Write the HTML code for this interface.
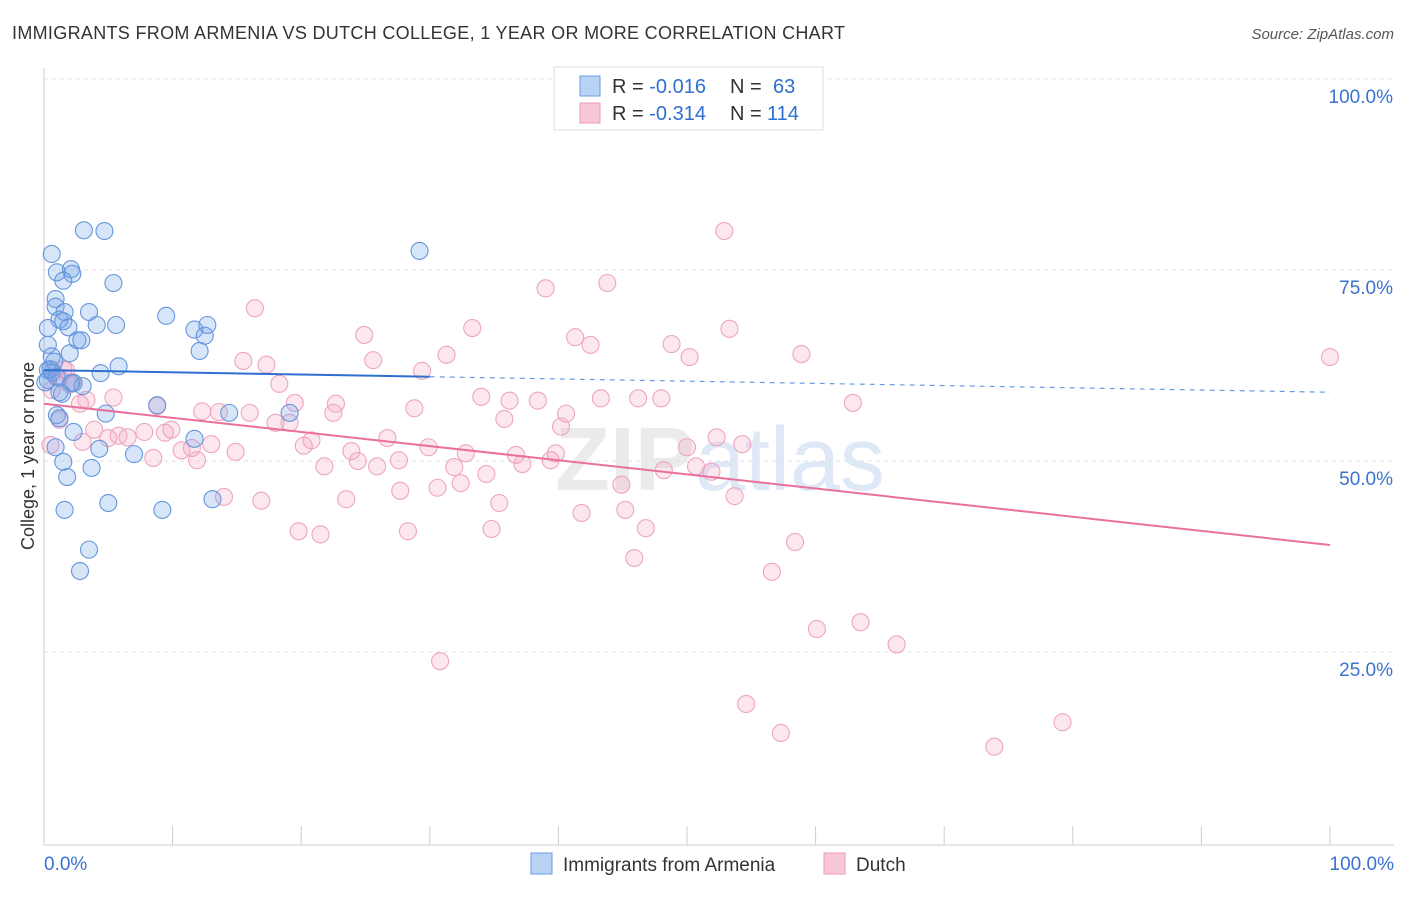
<!DOCTYPE html>
<html><head><meta charset="utf-8"><style>
body{margin:0;background:#fff;font-family:"Liberation Sans",sans-serif}
svg text{font-family:"Liberation Sans",sans-serif}
</style></head><body>
<svg id="chart" width="1406" height="892" viewBox="0 0 1406 892" xmlns="http://www.w3.org/2000/svg">
<text x="12" y="39" font-size="18" fill="#333" textLength="833" lengthAdjust="spacing">IMMIGRANTS FROM ARMENIA VS DUTCH COLLEGE, 1 YEAR OR MORE CORRELATION CHART</text>
<text x="1394" y="39" font-size="15" fill="#555" font-style="italic" text-anchor="end">Source: ZipAtlas.com</text>
<text x="720" y="490" font-size="90" fill="#ebebeb" text-anchor="middle" font-weight="bold">ZIP<tspan fill="#dfe8f6" font-weight="normal">atlas</tspan></text>
<g id="grid"></g><g id="axes"></g><g id="pts"></g><g id="trends"></g>
<text transform="translate(34,456) rotate(-90)" font-size="18" fill="#333" text-anchor="middle">College, 1 year or more</text>
<g>
<rect x="554" y="67" width="269" height="63" fill="#fff" stroke="#ddd"/>
<rect x="580" y="76" width="20" height="20" fill="#b9d3f5" stroke="#6a9be0"/>
<rect x="580" y="103" width="20" height="20" fill="#f9c8d8" stroke="#eb9ab8"/>
<text x="612" y="93" font-size="20" fill="#333">R = <tspan fill="#2f6fd0">-0.016</tspan><tspan x="730">N = </tspan><tspan x="773" fill="#2f6fd0">63</tspan></text>
<text x="612" y="120" font-size="20" fill="#333">R = <tspan fill="#2f6fd0">-0.314</tspan><tspan x="730">N = </tspan><tspan x="767" fill="#2f6fd0">114</tspan></text>
</g>
<g>
<rect x="531" y="853" width="21" height="21" fill="#b9d3f5" stroke="#6a9be0"/>
<text x="563" y="871" font-size="19" fill="#333">Immigrants from Armenia</text>
<rect x="824" y="853" width="21" height="21" fill="#f9c8d8" stroke="#eb9ab8"/>
<text x="856" y="871" font-size="19" fill="#333">Dutch</text>
</g>
</svg>
<script>
const yTicks=[25,50,75,100];
const yTickLabels=["25.0%","50.0%","75.0%","100.0%"];
const xLabels=["0.0%","100.0%"];
const blueX=[0.6,3.1,4.7,1.0,2.1,2.2,1.5,5.4,0.9,0.9,3.5,1.6,1.2,1.5,0.3,4.1,1.9,5.6,2.6,2.9,0.3,2.0,0.6,0.8,5.8,4.4,0.3,0.6,2.3,3.0,1.4,1.2,9.5,11.7,12.7,12.5,12.1,29.2,8.8,14.4,19.1,4.8,1.0,1.2,2.3,11.7,7.0,4.3,0.9,1.5,3.7,1.8,13.1,5.0,1.6,9.2,3.5,2.8,0.3,0.1,2.1,0.5,1.0];
const blueY=[77.1,80.2,80.1,74.7,75.1,74.5,73.6,73.3,71.2,70.2,69.5,69.5,68.5,68.3,67.4,67.8,67.5,67.8,65.8,65.8,65.2,64.1,63.7,63.0,62.4,61.5,61.9,61.6,60.2,59.8,58.8,59.0,69.0,67.2,67.8,66.4,64.4,77.5,57.3,56.3,56.3,56.2,56.0,55.6,53.8,52.9,50.9,51.6,51.8,49.9,49.1,47.9,45.0,44.5,43.6,43.6,38.4,35.6,60.6,60.3,60.2,62.0,61.0];
const pinkX=[52.9,16.4,39.0,43.8,33.3,24.9,41.3,42.5,53.3,48.8,31.3,25.6,50.2,58.9,15.5,17.3,29.4,18.3,1.7,1.2,2.2,0.6,2.8,3.3,34.0,36.2,38.4,43.3,46.2,48.0,62.9,8.8,12.3,13.6,16.0,19.5,22.7,28.8,40.6,18.0,22.5,19.1,35.8,40.2,3.9,5.0,5.8,6.5,7.8,9.4,9.9,11.5,10.7,13.0,14.9,20.2,20.8,23.9,26.7,29.9,32.8,36.7,39.8,50.0,52.3,54.3,8.5,11.9,21.8,24.4,25.9,27.6,31.9,34.4,37.2,39.4,48.2,50.7,51.9,27.7,30.6,32.4,44.9,23.5,14.0,16.9,35.4,41.8,45.2,53.7,19.8,21.5,28.3,34.8,46.8,45.9,58.4,56.6,60.1,63.5,66.3,30.8,54.6,57.3,79.2,73.9,100,1.2,0.5,5.4,0.8,2.0,1.5,3.0];
const pinkY=[80.1,70.0,72.6,73.3,67.4,66.5,66.2,65.2,67.3,65.3,63.9,63.2,63.6,64.0,63.1,62.6,61.8,60.1,61.9,60.9,60.3,59.3,57.5,58.0,58.4,57.9,57.9,58.2,58.2,58.2,57.6,57.2,56.5,56.4,56.3,57.6,57.5,56.9,56.2,55.0,56.3,55.0,55.5,54.5,54.1,53.0,53.3,53.1,53.8,53.7,54.1,51.7,51.4,52.2,51.2,52.0,52.7,51.3,53.0,51.8,51.0,50.8,51.0,51.8,53.1,52.2,50.4,50.1,49.3,50.0,49.3,50.1,49.2,48.3,49.6,50.1,48.8,49.3,48.6,46.1,46.5,47.1,46.9,45.0,45.3,44.8,44.5,43.2,43.6,45.4,40.8,40.4,40.8,41.1,41.2,37.3,39.4,35.5,28.0,28.9,26.0,23.8,18.2,14.4,15.8,12.6,63.6,55.4,52.1,58.3,61.5,60.0,62.0,52.5];
const blueTrend=[61.9,59.0]; const bluSolidEnd=30;
const pinkTrend=[57.5,39.0];
const X0=44,X1=1330,Y0=843,YS=7.64;
const xs=v=>X0+(X1-X0)*v/100, ys=v=>Y0-v*YS;
const NS="http://www.w3.org/2000/svg";
function mk(t,a,p){const e=document.createElementNS(NS,t);for(const k in a)e.setAttribute(k,a[k]);p.appendChild(e);return e;}
const grid=document.getElementById('grid'),axes=document.getElementById('axes'),pts=document.getElementById('pts'),tr=document.getElementById('trends');
yTicks.forEach((v,i)=>{
 const l=mk('line',{x1:X0,x2:1394,y1:ys(v),y2:ys(v),stroke:'#e2e2e2','stroke-dasharray':'4,4'},grid);
 
 
 const t=mk('text',{x:1393,y:ys(v)+24,'font-size':19,fill:'#3a72d0','text-anchor':'end'},axes);
 t.textContent=yTickLabels[i];
 
 
});
const ya=mk('line',{x1:X0,x2:X0,y1:68,y2:845,stroke:'#ccc'},axes);


const xa=mk('line',{x1:X0,x2:1394,y1:845,y2:845,stroke:'#ccc'},axes);


for(let i=1;i<=10;i++){const t=mk('line',{x1:xs(i*10),x2:xs(i*10),y1:826,y2:845,stroke:'#ccc'},axes);
 
 }
[[0,'start',X0],[1,'end',1394]].forEach(([i,a,x])=>{const t=mk('text',{x:x,y:870,'font-size':19,fill:'#3a72d0','text-anchor':a},axes);t.textContent=xLabels[i];
 
 });
pinkX.forEach((v,i)=>{const c=mk('circle',{cx:xs(v),cy:ys(pinkY[i]),r:8.5,fill:'rgba(244,160,190,0.25)',stroke:'#eea5c0','stroke-width':1.1},pts);
 
 });
blueX.forEach((v,i)=>{const c=mk('circle',{cx:xs(v),cy:ys(blueY[i]),r:8.5,fill:'rgba(110,160,235,0.28)',stroke:'#6696dc','stroke-width':1.1},pts);
 
 });
const bAt=x=>blueTrend[0]+(blueTrend[1]-blueTrend[0])*x/100;
const b1=mk('line',{x1:xs(0),y1:ys(bAt(0)),x2:xs(bluSolidEnd),y2:ys(bAt(bluSolidEnd)),stroke:'#2f6fd0','stroke-width':2},tr);


const b2=mk('line',{x1:xs(bluSolidEnd),y1:ys(bAt(bluSolidEnd)),x2:xs(100),y2:ys(bAt(100)),stroke:'#6a9be0','stroke-width':1.2,'stroke-dasharray':'5,5'},tr);


const p1=mk('line',{x1:xs(0),y1:ys(pinkTrend[0]),x2:xs(100),y2:ys(pinkTrend[1]),stroke:'#e8709a','stroke-width':2},tr);


</script>
</body></html>
